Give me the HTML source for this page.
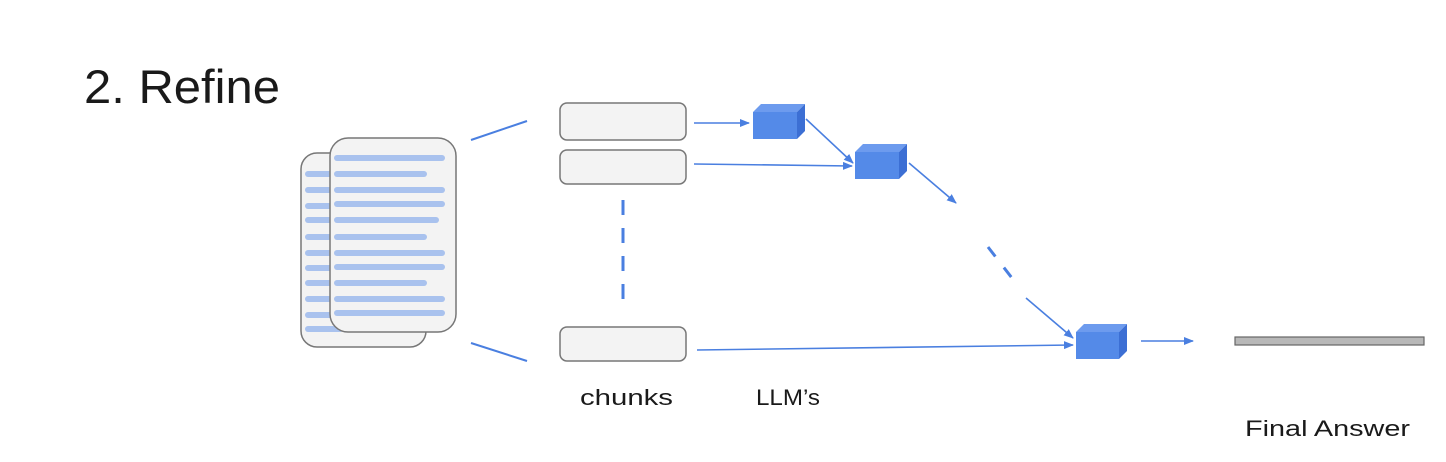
<!DOCTYPE html>
<html><head><meta charset="utf-8"><style>
html,body{margin:0;padding:0;background:#fff;width:1446px;height:462px;overflow:hidden}
svg{display:block}
text{font-family:"Liberation Sans",sans-serif;fill:#1a1a1a}
</style></head><body>
<svg width="1446" height="462" viewBox="0 0 1446 462" xmlns="http://www.w3.org/2000/svg">
<defs>
<marker id="ah" markerWidth="10" markerHeight="8" refX="9" refY="4" orient="auto" markerUnits="userSpaceOnUse">
<path d="M0,0 L10,4 L0,8 Z" fill="#4a7fe0"/></marker>
</defs>
<text x="84" y="103" font-size="47" textLength="196" lengthAdjust="spacingAndGlyphs">2. Refine</text>
<!-- back doc -->
<rect x="301" y="153" width="125" height="194" rx="16" fill="#f3f3f3" stroke="#777" stroke-width="1.5"/>
<g stroke="#a9c2ee" stroke-width="6" stroke-linecap="round">
<line x1="308" y1="174" x2="330" y2="174"/><line x1="308" y1="190" x2="330" y2="190"/>
<line x1="308" y1="206" x2="330" y2="206"/><line x1="308" y1="220" x2="330" y2="220"/>
<line x1="308" y1="237" x2="330" y2="237"/><line x1="308" y1="253" x2="330" y2="253"/>
<line x1="308" y1="268" x2="330" y2="268"/><line x1="308" y1="283" x2="330" y2="283"/>
<line x1="308" y1="299" x2="330" y2="299"/><line x1="308" y1="315" x2="330" y2="315"/>
<line x1="308" y1="329" x2="340" y2="329"/>
</g>
<rect x="330" y="138" width="126" height="194" rx="18" fill="#f3f3f3" stroke="#777" stroke-width="1.5"/>
<g stroke="#a9c2ee" stroke-width="6" stroke-linecap="round">
<line x1="337" y1="158" x2="442" y2="158"/><line x1="337" y1="174" x2="424" y2="174"/>
<line x1="337" y1="190" x2="442" y2="190"/><line x1="337" y1="204" x2="442" y2="204"/>
<line x1="337" y1="220" x2="436" y2="220"/><line x1="337" y1="237" x2="424" y2="237"/>
<line x1="337" y1="253" x2="442" y2="253"/><line x1="337" y1="267" x2="442" y2="267"/>
<line x1="337" y1="283" x2="424" y2="283"/><line x1="337" y1="299" x2="442" y2="299"/>
<line x1="337" y1="313" x2="442" y2="313"/>
</g>
<g stroke="#4a7fe0" stroke-width="2" fill="none">
<line x1="471" y1="140" x2="527" y2="121"/>
<line x1="471" y1="343" x2="527" y2="361"/>
<line x1="623" y1="200" x2="623" y2="300" stroke-width="3" stroke-dasharray="15,13"/>
</g>
<!-- chunks -->
<g fill="#f3f3f3" stroke="#777" stroke-width="1.5">
<rect x="560" y="103" width="126" height="37" rx="7"/>
<rect x="560" y="150" width="126" height="34" rx="7"/>
<rect x="560" y="327" width="126" height="34" rx="7"/>
</g>
<!-- arrows -->
<g stroke="#4a7fe0" stroke-width="1.6" fill="none" marker-end="url(#ah)">
<line x1="694" y1="123" x2="749" y2="123"/>
<line x1="806" y1="119" x2="853" y2="163"/>
<line x1="694" y1="164" x2="852" y2="166"/>
<line x1="909" y1="163" x2="956" y2="203"/>
<line x1="1026" y1="298" x2="1073" y2="338"/>
<line x1="697" y1="350" x2="1073" y2="345"/>
<line x1="1141" y1="341" x2="1193" y2="341"/>
</g>
<line x1="988" y1="247" x2="1015" y2="282" stroke="#4a7fe0" stroke-width="3" stroke-dasharray="12,14"/>
<!-- cubes -->
<g>
<path d="M753,112 L761,104 L805,104 L797,112 Z" fill="#6d9bee"/>
<path d="M797,112 L805,104 L805,131 L797,139 Z" fill="#3c6fd4"/>
<rect x="753" y="112" width="44" height="27" fill="#548ae8"/>
<path d="M855,152 L863,144 L907,144 L899,152 Z" fill="#6d9bee"/>
<path d="M899,152 L907,144 L907,171 L899,179 Z" fill="#3c6fd4"/>
<rect x="855" y="152" width="44" height="27" fill="#548ae8"/>
<path d="M1076,332 L1084,324 L1127,324 L1119,332 Z" fill="#6d9bee"/>
<path d="M1119,332 L1127,324 L1127,351 L1119,359 Z" fill="#3c6fd4"/>
<rect x="1076" y="332" width="43" height="27" fill="#548ae8"/>
</g>
<rect x="1235" y="337" width="189" height="8" fill="#b8b8b8" stroke="#666" stroke-width="1.2"/>
<text x="580" y="405" font-size="22" textLength="93" lengthAdjust="spacingAndGlyphs">chunks</text>
<text x="756" y="405" font-size="22" textLength="64" lengthAdjust="spacingAndGlyphs">LLM’s</text>
<text x="1245" y="436" font-size="22" textLength="165" lengthAdjust="spacingAndGlyphs">Final Answer</text>
</svg>
</body></html>
